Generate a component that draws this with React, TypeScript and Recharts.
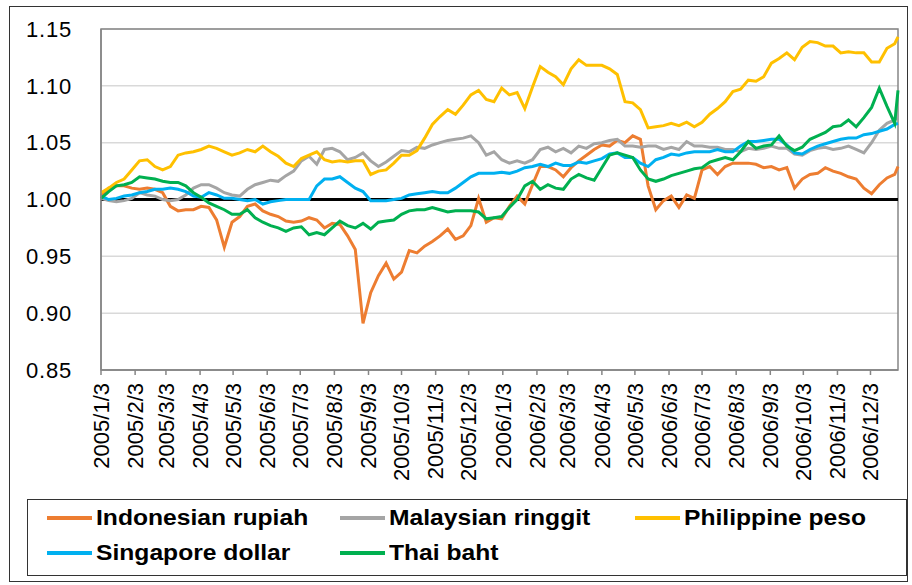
import React from 'react'
import { LineChart, Line, XAxis, YAxis, CartesianGrid, ReferenceLine, ReferenceArea } from 'recharts'

const FONT = "'Liberation Sans', Arial, sans-serif"
const START = Date.UTC(2005, 0, 3)

const monthLabels = [
  '2005/1/3', '2005/2/3', '2005/3/3', '2005/4/3', '2005/5/3', '2005/6/3',
  '2005/7/3', '2005/8/3', '2005/9/3', '2005/10/3', '2005/11/3', '2005/12/3',
  '2006/1/3', '2006/2/3', '2006/3/3', '2006/4/3', '2006/5/3', '2006/6/3',
  '2006/7/3', '2006/8/3', '2006/9/3', '2006/10/3', '2006/11/3', '2006/12/3',
]

const yTicks = [0.85, 0.9, 0.95, 1.0, 1.05, 1.1, 1.15]

// weekly observations, days since 2005/1/3 (last one 2006/12/28)
const obsDays = [...Array(104).keys()].map((i) => i * 7).concat(724)

const rupiah = [
  1.003, 1.010, 1.012, 1.012, 1.010, 1.009, 1.010, 1.009, 1.006, 0.994, 0.990, 0.991, 0.991, 0.994,
  0.993, 0.982, 0.958, 0.980, 0.985, 0.994, 0.996, 0.990, 0.987, 0.985, 0.981, 0.980, 0.981,
  0.984, 0.982, 0.975, 0.979, 0.978, 0.968, 0.956, 0.891, 0.918, 0.933, 0.944, 0.930, 0.936,
  0.955, 0.953, 0.959, 0.963, 0.968, 0.974, 0.965, 0.968, 0.977, 1.001, 0.980, 0.984, 0.983,
  0.994, 1.003, 0.996, 1.013, 1.029, 1.029, 1.026, 1.020, 1.028, 1.034, 1.039, 1.044, 1.048,
  1.047, 1.052, 1.050, 1.056, 1.053, 1.012, 0.991, 0.999, 1.003, 0.993, 1.004, 1.001, 1.026,
  1.029, 1.022, 1.029, 1.032, 1.032, 1.032, 1.031, 1.028, 1.029, 1.026, 1.028, 1.010, 1.018,
  1.022, 1.023, 1.028, 1.025, 1.023, 1.020, 1.018, 1.010, 1.005, 1.013, 1.019, 1.022, 1.029,
]

const ringgit = [
  1.001, 0.999, 0.998, 0.999, 1.001, 1.006, 1.004, 1.003, 1.000, 0.999, 1.000, 1.004, 1.010, 1.013,
  1.013, 1.010, 1.006, 1.004, 1.003, 1.009, 1.013, 1.015, 1.017, 1.016, 1.021, 1.025, 1.034,
  1.038, 1.031, 1.044, 1.045, 1.042, 1.035, 1.037, 1.041, 1.034, 1.029, 1.033, 1.038, 1.043,
  1.042, 1.046, 1.045, 1.048, 1.050, 1.052, 1.053, 1.054, 1.056, 1.050, 1.039, 1.042, 1.035,
  1.032, 1.034, 1.032, 1.035, 1.044, 1.046, 1.042, 1.045, 1.041, 1.047, 1.045, 1.049, 1.050,
  1.052, 1.053, 1.047, 1.047, 1.046, 1.047, 1.047, 1.044, 1.046, 1.044, 1.051, 1.047, 1.047,
  1.046, 1.046, 1.044, 1.044, 1.042, 1.045, 1.044, 1.045, 1.047, 1.045, 1.045, 1.040, 1.039,
  1.043, 1.045, 1.046, 1.044, 1.045, 1.047, 1.044, 1.041, 1.050, 1.061, 1.067, 1.070, 1.073,
]

const peso = [
  1.006, 1.010, 1.015, 1.018, 1.026, 1.034, 1.035, 1.029, 1.026, 1.029, 1.039, 1.041, 1.042, 1.044,
  1.047, 1.045, 1.042, 1.039, 1.041, 1.044, 1.042, 1.047, 1.042, 1.038, 1.032, 1.029, 1.036,
  1.039, 1.042, 1.035, 1.033, 1.034, 1.033, 1.034, 1.034, 1.022, 1.025, 1.026, 1.032, 1.039,
  1.039, 1.043, 1.054, 1.066, 1.073, 1.079, 1.075, 1.083, 1.092, 1.096, 1.088, 1.086, 1.098,
  1.092, 1.094, 1.080, 1.099, 1.117, 1.112, 1.108, 1.101, 1.115, 1.123, 1.118, 1.118, 1.118,
  1.115, 1.110, 1.086, 1.085, 1.079, 1.063, 1.064, 1.065, 1.067, 1.065, 1.068, 1.064, 1.068,
  1.075, 1.080, 1.086, 1.095, 1.097, 1.105, 1.104, 1.108, 1.120, 1.124, 1.129, 1.123, 1.134,
  1.139, 1.138, 1.135, 1.135, 1.129, 1.130, 1.129, 1.129, 1.121, 1.121, 1.133, 1.137, 1.143,
]

const sgdollar = [
  1.003, 1.000, 1.001, 1.003, 1.004, 1.006, 1.007, 1.009, 1.009, 1.010, 1.009, 1.007, 1.003, 1.002,
  1.006, 1.004, 1.001, 1.001, 1.000, 0.999, 1.000, 0.996, 0.998, 0.999, 1.000, 1.000, 1.000,
  1.000, 1.012, 1.018, 1.018, 1.020, 1.015, 1.010, 1.007, 0.999, 0.999, 0.999, 1.000, 1.001,
  1.004, 1.005, 1.006, 1.007, 1.006, 1.006, 1.010, 1.015, 1.020, 1.023, 1.023, 1.023, 1.024,
  1.023, 1.025, 1.028, 1.029, 1.031, 1.029, 1.032, 1.030, 1.030, 1.033, 1.032, 1.034, 1.036,
  1.040, 1.041, 1.037, 1.037, 1.032, 1.029, 1.035, 1.037, 1.040, 1.039, 1.041, 1.042, 1.042,
  1.042, 1.044, 1.042, 1.042, 1.047, 1.051, 1.051, 1.052, 1.053, 1.053, 1.048, 1.041, 1.040,
  1.044, 1.047, 1.049, 1.051, 1.053, 1.054, 1.054, 1.057, 1.058, 1.060, 1.062, 1.066, 1.067,
]

const baht = [
  1.001, 1.007, 1.012, 1.013, 1.015, 1.020, 1.019, 1.018, 1.016, 1.015, 1.015, 1.012, 1.006, 1.002,
  0.997, 0.994, 0.991, 0.987, 0.987, 0.991, 0.984, 0.980, 0.977, 0.975, 0.972, 0.975, 0.976,
  0.969, 0.971, 0.969, 0.975, 0.981, 0.977, 0.975, 0.979, 0.974, 0.980, 0.981, 0.982, 0.987,
  0.990, 0.991, 0.991, 0.993, 0.991, 0.989, 0.990, 0.990, 0.990, 0.989, 0.983, 0.984, 0.985,
  0.993, 1.000, 1.012, 1.016, 1.009, 1.013, 1.010, 1.009, 1.018, 1.022, 1.019, 1.017, 1.028,
  1.039, 1.041, 1.039, 1.037, 1.026, 1.018, 1.016, 1.018, 1.021, 1.023, 1.025, 1.027, 1.028,
  1.033, 1.035, 1.037, 1.035, 1.042, 1.051, 1.045, 1.047, 1.048, 1.056, 1.047, 1.043, 1.046,
  1.053, 1.056, 1.059, 1.064, 1.065, 1.070, 1.064, 1.072, 1.081, 1.098, 1.082, 1.067, 1.096,
]

const series = [
  { key: 'rupiah', name: 'Indonesian rupiah', color: '#ED7D31', values: rupiah },
  { key: 'ringgit', name: 'Malaysian ringgit', color: '#A5A5A5', values: ringgit },
  { key: 'peso', name: 'Philippine peso', color: '#FFC000', values: peso },
  { key: 'sgdollar', name: 'Singapore dollar', color: '#00B0F0', values: sgdollar },
  { key: 'baht', name: 'Thai baht', color: '#00B050', values: baht },
]

function toDay(label: string) {
  const [y, m, d] = label.split('/').map(Number)
  return Math.round((Date.UTC(y, m - 1, d) - START) / 86400000)
}

const tickDays = monthLabels.map(toDay)
const labelOf: Record<number, string> = {}
monthLabels.forEach((l, i) => (labelOf[tickDays[i]] = l))

const data = obsDays.map((day, i) => {
  const row: Record<string, number> = { day }
  series.forEach((s) => (row[s.key] = s.values[i]))
  return row
})

function MonthTick({ x, y, payload }: any) {
  return (
    <text
      x={0}
      y={0}
      dy="0.35em"
      transform={`translate(${x},${y}) rotate(-90)`}
      textAnchor="end"
      fontSize={22}
      fontFamily={FONT}
      fill="#000"
    >
      {labelOf[payload.value]}
    </text>
  )
}

// legend rows like the excel legend box
const legendCols = [47, 340, 635]
const legendRows = [518, 553]

export default function App() {
  return (
    <div style={{ position: 'absolute', left: 0, top: 0, width: 912, height: 585, background: '#fff', fontFamily: FONT }}>
      <div style={{ position: 'absolute', left: 9, top: 6, width: 899, height: 576, border: '1px solid #333', boxSizing: 'border-box' }} />
      <div style={{ position: 'absolute', left: 0, top: 0 }}>
        <LineChart width={912} height={585} data={data} margin={{ top: 29, right: 14, bottom: 85, left: 9 }}>
          <CartesianGrid vertical={false} stroke="#d9d9d9" strokeWidth={1.5} />
          <ReferenceArea x1={0} x2={724} y1={0.85} y2={1.15} fill="none" stroke="#868686" strokeWidth={1.5} />
          <XAxis
            type="number"
            dataKey="day"
            domain={[0, 724]}
            ticks={tickDays}
            interval={0}
            tick={(p: any) => <MonthTick {...p} />}
            tickSize={5}
            tickMargin={8}
            height={130}
            stroke="#868686"
            strokeWidth={1.5}
          />
          <YAxis
            type="number"
            domain={[0.85, 1.15]}
            ticks={yTicks}
            tickFormatter={(v: number) => v.toFixed(2)}
            width={92}
            tickLine={false}
            tickSize={0}
            tickMargin={29}
            stroke="#868686"
            strokeWidth={1.5}
            tick={{ fontSize: 22, fill: '#000', fontFamily: FONT, letterSpacing: 0.8 }}
          />
          <ReferenceLine y={1} stroke="#000" strokeWidth={3} />
          {series.map((s) => (
            <Line
              key={s.key}
              type="linear"
              dataKey={s.key}
              name={s.name}
              stroke={s.color}
              strokeWidth={3}
              dot={false}
              isAnimationActive={false}
            />
          ))}
        </LineChart>
      </div>
      <div style={{ position: 'absolute', left: 27, top: 499, width: 880, height: 77, border: '1px solid #333', boxSizing: 'border-box' }} />
      {series.map((s, i) => (
        <div
          key={s.key}
          style={{
            position: 'absolute',
            left: legendCols[i % 3],
            top: legendRows[Math.floor(i / 3)] - 14,
            height: 28,
            display: 'flex',
            alignItems: 'center',
            whiteSpace: 'nowrap',
          }}
        >
          <span style={{ display: 'inline-block', width: 45, height: 4, background: s.color, marginRight: 4 }} />
          <span style={{ display: 'inline-block', fontSize: 22, fontWeight: 'bold', color: '#000', transform: 'scaleX(1.12)', transformOrigin: 'left center' }}>
            {s.name}
          </span>
        </div>
      ))}
    </div>
  )
}
